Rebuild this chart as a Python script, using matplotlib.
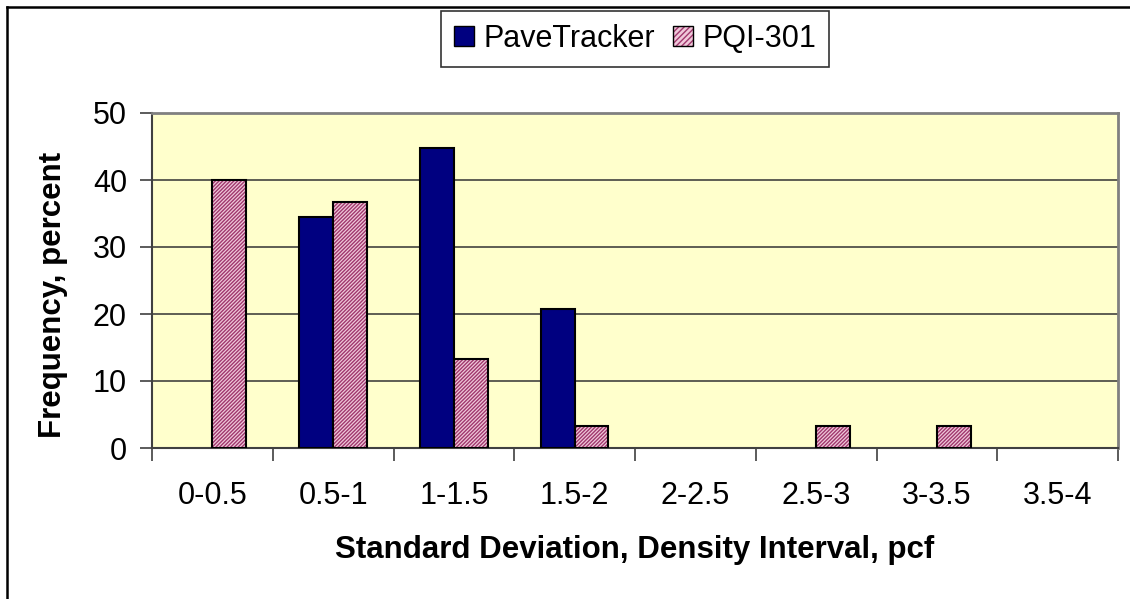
"""
Frequency histogram of density standard deviations, PaveTracker vs PQI-301.
"""

import numpy as np
import matplotlib
matplotlib.use("Agg")
import matplotlib.pyplot as plt
from matplotlib.patches import Patch
from matplotlib.lines import Line2D
from matplotlib.legend_handler import HandlerTuple

plt.rcParams["font.family"] = ["Liberation Sans", "DejaVu Sans"]

categories = ["0-0.5", "0.5-1", "1-1.5", "1.5-2", "2-2.5", "2.5-3", "3-3.5", "3.5-4"]
pavetracker = [0, 34.5, 44.8, 20.7, 0, 0, 0, 0]
pqi301 = [40.0, 36.7, 13.3, 3.3, 0, 3.3, 3.3, 0]
yticks = [0, 10, 20, 30, 40, 50]

NAVY = "#000080"
PINK_FILL = "#F0C8DA"
PINK_HATCH = "#A0386E"
PLOT_BG = "#FFFFCC"
W, H = 1130, 599

fig = plt.figure(figsize=(W / 100, H / 100), dpi=100)
ax = fig.add_axes([152 / W, 1 - 448 / H, (1118 - 152) / W, (448 - 113) / H])
ax.set_facecolor(PLOT_BG)

x = np.arange(len(categories))
w = 0.28
pt = np.array(pavetracker)
pq = np.array(pqi301)

# zero-height bars are left out so they don't thicken the baseline
m1 = pt > 0
m2 = pq > 0
ax.bar(x[m1] - w / 2, pt[m1], w, color=NAVY, edgecolor="black", linewidth=1.5, zorder=3)
# hatched layer, then a plain black outline on top
ax.bar(x[m2] + w / 2, pq[m2], w, color=PINK_FILL, edgecolor=PINK_HATCH, hatch="/////////",
       linewidth=0, zorder=3)
ax.bar(x[m2] + w / 2, pq[m2], w, fill=False, edgecolor="black", linewidth=1.5, zorder=4)

ax.set_xlim(-0.5, len(categories) - 0.5)
ax.set_ylim(0, 50)
ax.set_yticks(yticks)
ax.set_xticks(np.arange(len(categories) + 1) - 0.5)
ax.set_xticklabels([])
ax.set_xticks(x, minor=True)
ax.set_xticklabels(categories, minor=True)
ax.tick_params(axis="x", which="minor", length=0, pad=24, labelsize=22)
ax.tick_params(axis="x", which="major", length=9, width=1.2, color="#404040")
ax.tick_params(axis="y", length=9, width=1.2, color="#404040", labelsize=22, pad=9)

ax.grid(axis="y", color="#333333", linewidth=1.1, zorder=1)
for s in ["left", "bottom"]:
    ax.spines[s].set_color("#404040")
    ax.spines[s].set_linewidth(1.5)
for s in ["top", "right"]:
    ax.spines[s].set_color("#808080")
    ax.spines[s].set_linewidth(2)

fig.text(635 / W, 1 - 550 / H, "Standard Deviation, Density Interval, pcf", fontsize=22.5,
         fontweight="bold", ha="center", va="center")
fig.text(53 / W, 1 - 295 / H, "Frequency, percent", fontsize=22.5, fontweight="bold",
         rotation=90, ha="center", va="center")

# legend
h1 = Patch(facecolor=NAVY, edgecolor="black", linewidth=1)
h2a = Patch(facecolor=PINK_FILL, edgecolor=PINK_HATCH, hatch="//////", linewidth=0)
h2b = Patch(fill=False, edgecolor="black", linewidth=1)
leg = fig.legend([h1, (h2a, h2b)], ["PaveTracker", "PQI-301"],
                 handler_map={tuple: HandlerTuple(ndivide=1)},
                 loc="center", bbox_to_anchor=(635 / W, 1 - 39 / H),
                 ncol=2, fontsize=22, frameon=True, fancybox=False,
                 handlelength=0.65, handleheight=0.65, handletextpad=0.3,
                 columnspacing=0.6, borderpad=0.42, borderaxespad=0)
leg.get_frame().set_edgecolor("black")
leg.get_frame().set_linewidth(1.2)

# outer chart frame
fig.add_artist(Line2D([7 / W, 7 / W], [0, 1 - 7 / H], transform=fig.transFigure,
                      color="black", linewidth=1.8))
fig.add_artist(Line2D([7 / W, 1], [1 - 7 / H, 1 - 7 / H], transform=fig.transFigure,
                      color="black", linewidth=1.8))

fig.savefig("out.png", dpi=100)
